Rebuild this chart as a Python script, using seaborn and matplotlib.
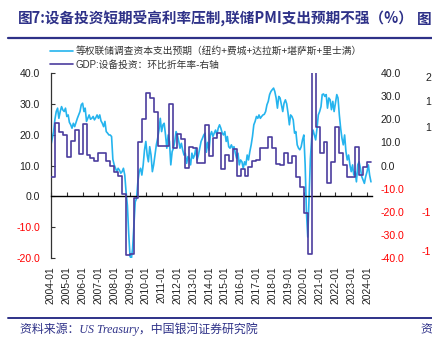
import numpy as np
import pandas as pd
import matplotlib
matplotlib.use("Agg")
import matplotlib.pyplot as plt
from matplotlib.lines import Line2D
import seaborn as sns

sns.set_style("white")
plt.rcParams['font.family'] = ['Liberation Sans', 'Noto Sans CJK SC', 'DejaVu Sans']
plt.rcParams['axes.unicode_minus'] = False

# ---------------- data ----------------
capex_label = "等权联储调查资本支出预期（纽约+费城+达拉斯+堪萨斯+里士满）"
gdp_label = "GDP:设备投资：环比折年率-右轴"

# monthly, 2004-01 .. 2024-04 (left axis, %)
capex = [
    16.7, 19, 21, 25, 27.5, 28.6, 25.3, 27.5, 29.1, 28, 27.5, 28.6,          # 2004
    25.9, 26.4, 24, 23.2, 22.1, 23.7, 22.6, 24, 25.3, 26.4, 27.5, 29.7,      # 2005
    30.2, 27.5, 28.6, 24.3, 25.3, 26.4, 25, 25.3, 25.9, 24.8, 25.5, 26.4,    # 2006
    25.3, 26.4, 24.5, 23.7, 22.6, 24.3, 21, 20.5, 19.9, 19.9, 19.4, 12,      # 2007
    10.2, 9.1, 8, 9.1, 8.5, 7.5, 8, 9.1, 6.9, 1.5, -3, -12,                  # 2008
    -19.5, -20.2, -17, -9.4, -1.8, -0.7, 4.7, 8, 9.1, 6.9, 10.2, 15,         # 2009
    17.8, 13.4, 11.2, 16.1, 13.4, 8, 10.2, 13.4, 16.7, 18.8, 21.5, 25.3,     # 2010
    21, 23.2, 23.7, 19.9, 15.6, 19.9, 17.8, 10.2, 14.5, 15.6, 17.8, 21,      # 2011
    19.9, 17.8, 15.6, 17.2, 15.1, 13.4, 14, 10.7, 12.9, 12.3, 10.2, 14,      # 2012
    12.3, 13.4, 15.6, 11.8, 13.4, 15.6, 17.8, 18.8, 19.9, 20.5, 14.3, 17.5,  # 2013
    15, 19.9, 21, 19.4, 20.5, 21.5, 19.9, 22.1, 23.2, 22.1, 20.5, 19.9,      # 2014
    21, 17.8, 19.4, 16.1, 15.6, 16.7, 15.6, 16.1, 14, 12.3, 14, 10.2,        # 2015
    11.8, 11.2, 9.1, 11.2, 10.2, 13.4, 11.8, 14.5, 16.7, 19.4, 23.2, 24.3,   # 2016
    25.9, 25.3, 26.4, 25.3, 25.9, 26.4, 26.6, 27.5, 29.7, 30.8, 33, 34,      # 2017
    34.6, 35.1, 34, 31.9, 28.6, 32.4, 31.9, 29.7, 27.5, 30.2, 31.3, 30,      # 2018
    27, 23.2, 26.4, 25.9, 24.8, 20.5, 21, 16.7, 15.6, 15.1, 16.1, 18.3,      # 2019
    19.9, 10.2, -5, -13.2, -0.7, 12.3, 18.8, 21.5, 19.9, 18.3, 22.1, 26.4,   # 2020
    27.5, 29.1, 33, 33.2, 32.4, 33, 28.6, 31.9, 31.3, 28.1, 30.8, 27.5,      # 2021
    30.2, 33, 31.9, 26.4, 22.1, 18.8, 16.7, 19.9, 14.5, 11.8, 13.4, 10.2,    # 2022
    8, 10.2, 6.9, 8, 4.7, 10.2, 11.2, 9.1, 6.4, 5.3, 4.2, 6.4,               # 2023
    8, 10.2, 6.9, 4.7,                                                       # 2024
]

# quarterly, 2004Q1 .. 2024Q1 (right axis, %)
gdp_q = [
    -5, 18.2, 14.5, 13,          # 2004
    3.6, 10.5, 15.4, 5,          # 2005
    18, 4.5, 3.1, 2,             # 2006
    5.6, 5.6, 2, 0,              # 2007
    -2.7, -4.4, -12.2, -38.7,    # 2008
    -38.3, -14, 10, 20,          # 2009
    31.5, 29, 23.3, 8.5,         # 2010
    8.5, 8.5, 26.5, 7.5,         # 2011
    13.5, 11.5, -1.2, 8,         # 2012
    7.5, 1, 1, 17.5,             # 2013
    4.2, 12, 14, -1.5,           # 2014
    4.6, 2, 7, -4.5,             # 2015
    -1.6, -4.5, -0.5, 2,         # 2016
    2.4, 7.4, 7.5, 12.5,         # 2017
    7.4, 0.6, 0.2, 5.2,          # 2018
    1, 4, -4.8, -9.2,            # 2019
    -20.5, -38.3, 68, 16.8,      # 2020
    5.3, 10.3, -7.7, 1.7,        # 2021
    16.8, 5.3, 0.2, -4.8,        # 2022
    -4.8, 8.2, -4.1, -0.5,       # 2023
    1.7,                         # 2024
]

left_ticks = [-20, -10, 0, 10, 20, 30, 40]
right_ticks = [-40, -30, -20, -10, 0, 10, 20, 30, 40]
year_ticks = list(range(2004, 2025))

# ---------------- frames ----------------
months = pd.date_range("2004-01-01", periods=len(capex), freq="MS")
df_capex = pd.DataFrame({"date": months, "value": capex})
qdates = list(pd.date_range("2004-01-01", periods=len(gdp_q), freq="QS"))
qdates.append(qdates[-1] + pd.DateOffset(months=3))
df_gdp = pd.DataFrame({"date": qdates, "value": gdp_q + [gdp_q[-1]]})

# ---------------- figure ----------------
W, H = 432, 338
fig = plt.figure(figsize=(W / 100, H / 100), dpi=100)
ax_l, ax_r, ax_t, ax_b = 51, 372, 73, 258
ax = fig.add_axes([ax_l / W, 1 - ax_b / H, (ax_r - ax_l) / W, (ax_b - ax_t) / H])
ax2 = ax.twinx()

light = "#25B4EE"
dark = "#4B3D9E"
navy = "#2E3188"

sns.lineplot(data=df_capex, x="date", y="value", ax=ax, color=light, lw=1.2,
             estimator=None, legend=False)
sns.lineplot(data=df_gdp, x="date", y="value", ax=ax2, color=dark, lw=1.2,
             estimator=None, legend=False, drawstyle="steps-post")

xmin = pd.Timestamp("2004-01-01")
xmax = pd.Timestamp("2024-04-25")
ax.set_xlim(xmin, xmax)
ax2.set_xlim(xmin, xmax)
ax.set_ylim(-20, 40)
ax2.set_ylim(-40, 40)

ax.set_xlabel("")
ax.set_ylabel("")
ax2.set_xlabel("")
ax2.set_ylabel("")

# left axis
ax.set_yticks(left_ticks)
ax.set_yticklabels([f"{v:.1f}" for v in left_ticks])
for lab, v in zip(ax.get_yticklabels(), left_ticks):
    lab.set_color("red" if v < 0 else "#222222")
ax.tick_params(axis="y", direction="in", length=3, width=0.8, color="#333333",
               labelsize=7.6, pad=8, left=True)

# right axis
ax2.set_yticks(right_ticks)
ax2.set_yticklabels([f"{v:.1f}" for v in right_ticks])
for lab, v in zip(ax2.get_yticklabels(), right_ticks):
    lab.set_color("red" if v < 0 else "#222222")
ax2.tick_params(axis="y", length=0, labelsize=7.6, pad=6)

# x axis: spine/ticks at zero, labels at bottom
tick_dates = [pd.Timestamp(f"{y}-01-01") for y in year_ticks]
for s in ["top", "right"]:
    ax.spines[s].set_visible(False)
for s in ["top", "right", "left", "bottom"]:
    ax2.spines[s].set_visible(False)
ax.spines["left"].set_color("#333333")
ax.spines["left"].set_linewidth(0.9)
ax.spines["bottom"].set_position(("data", 0))
ax.spines["bottom"].set_color("black")
ax.spines["bottom"].set_linewidth(1.0)
ax.set_xticks(tick_dates)
ax.tick_params(axis="x", direction="in", length=3, width=0.8, color="#333333",
               labelbottom=False, bottom=True)

sec = ax.secondary_xaxis(0.0)
sec.set_xticks(tick_dates)
sec.set_xticklabels([f"{y}-01" for y in year_ticks], rotation=90)
sec.tick_params(axis="x", length=0, labelsize=7.4, pad=6, labelcolor="#222222")
sec.spines["bottom"].set_visible(False)

# legend
handles = [Line2D([0], [0], color=light, lw=1.2), Line2D([0], [0], color=dark, lw=1.2)]
leg = fig.legend(handles, [capex_label, gdp_label], loc="upper left",
                 bbox_to_anchor=(50 / W, 1 - 46 / H), frameon=False,
                 fontsize=7.0, handlelength=2.4, handletextpad=0.25,
                 labelspacing=0.4, borderpad=0, borderaxespad=0)
for t in leg.get_texts():
    t.set_color("#333333")

# title and decorations
fig.text(18 / W, 1 - 19 / H, "图7:设备投资短期受高利率压制,联储PMI支出预期不强（%）",
         fontsize=10.5, fontweight="bold", color=navy, va="center", ha="left",
         family=["Noto Sans CJK SC", "Liberation Sans"])
fig.text(1.0, 1 - 19 / H, "图", fontsize=10.5, fontweight="bold", color=navy,
         va="center", ha="right", family=["Noto Sans CJK SC"])
fig.add_artist(Line2D([8 / W, 1], [1 - 38 / H, 1 - 38 / H], color=navy, lw=1.6,
                      transform=fig.transFigure))
fig.add_artist(Line2D([8 / W, 1], [1 - 318 / H, 1 - 318 / H], color=navy, lw=1.4,
                      transform=fig.transFigure))
fig.text(20 / W, 1 - 329 / H, "资料来源：US Treasury，中国银河证券研究院",
         fontsize=8.6, color=navy, style="italic", va="center", ha="left",
         family=["Liberation Serif", "Noto Sans CJK SC"])
fig.text(1.0, 1 - 329 / H, "资", fontsize=8.6, color=navy, va="center", ha="right",
         family=["Noto Sans CJK SC"])

# neighbouring chart's axis labels at the right edge
for yy, txt, col in [(78, "2", "#222222"), (102, "1", "#222222"), (128, "1", "#222222"),
                     (213, "-1", "red"), (252, "-1", "red")]:
    fig.text(431 / W, 1 - yy / H, txt, fontsize=7.6, color=col, va="center", ha="right")

fig.savefig("out.png", dpi=100)
